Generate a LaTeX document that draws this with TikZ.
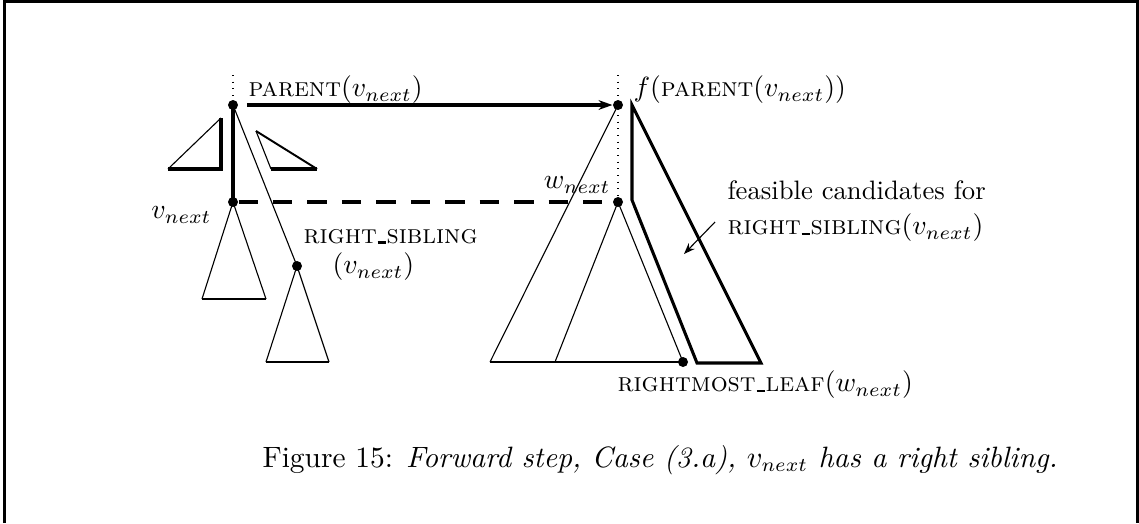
\documentclass[tikz,border=0pt]{standalone}
\usetikzlibrary{arrows.meta}
\newcommand{\usc}{\kern0.03em\rule{0.32em}{0.09em}\kern0.02em}
\begin{document}
\begin{tikzpicture}[x=0.36pt,y=-0.36pt,
  dot/.style={circle,fill,inner sep=0pt,minimum size=3.6pt},
  thickline/.style={line width=1.1pt},
  thinline/.style={line width=0.4pt},
  midline/.style={line width=0.7pt},
  lbl/.style={inner sep=0pt,font=\fontsize{9.6}{11}\selectfont}]
\useasboundingbox (0,0) rectangle (1139,523);
% frame
\draw[line width=1.08pt] (4.5,523) -- (4.5,1.5) -- (1137.5,1.5) -- (1137.5,523);
% nodes
\node[dot] (P) at (233,105) {};
\node[dot] (V) at (233,202) {};
\node[dot] (RS) at (297,266) {};
\node[dot] (F) at (618,105) {};
\node[dot] (W) at (618,202) {};
\node[dot] (RL) at (683,362) {};
\coordinate (Ptop) at (233,75);
\coordinate (Ftop) at (618,75);
% dotted
\draw[dotted,thinline] (Ptop) -- (P);
\draw[dotted,thinline] (Ftop) -- (W);
% left tree
\draw[thickline] (P.center) -- (V.center);
\draw[thinline] (P.center) -- (RS.center);
\coordinate (lt1) at (221,118); \coordinate (lt2) at (168,169); \coordinate (lt3) at (221,169);
\draw[thinline] (lt2) -- (lt1);
\draw[thickline] (lt1) -- (lt3) -- (lt2);
\coordinate (rt1) at (256,131); \coordinate (rt2) at (271,169); \coordinate (rt3) at (317,169);
\draw[thinline] (rt1) -- (rt2);
\draw[thickline] (rt2) -- (rt3);
\draw[midline] (rt3) -- (rt1);
\coordinate (vl) at (202,299); \coordinate (vr) at (266,299);
\draw[thinline] (vl) -- (V.center) -- (vr);
\draw[midline] (vl) -- (vr);
\coordinate (rsl) at (266,362); \coordinate (rsr) at (329,362);
\draw[thinline] (rsl) -- (RS.center) -- (rsr);
\draw[midline] (rsl) -- (rsr);
% connectors
\draw[thickline,-{Stealth[length=5pt,width=3.5pt]},shorten <=3pt] (P) -- (F);
\draw[thickline,dash pattern=on 7pt off 5.4pt] (V) -- (W);
% right tree
\coordinate (bl) at (490,362); \coordinate (wl) at (555,362);
\draw[thinline] (F.center) -- (bl);
\draw[thinline] (wl) -- (W.center) -- (RL.center);
\draw[midline] (bl) -- (RL.center);
\coordinate (c1) at (632,105); \coordinate (c2) at (632,200);
\coordinate (c3) at (697,363); \coordinate (c4) at (761,363);
\draw[thickline] (c1) -- (c2) -- (c3) -- (c4) -- cycle;
\coordinate (as) at (715,222); \coordinate (ae) at (684,254);
\draw[thinline,-{Stealth[length=4pt,width=3pt]}] (as) -- (ae);
% labels
\node[lbl,anchor=west] (lP) at (248,90) {\textsc{parent}$(v_{next})$};
\node[lbl,anchor=west] (lF) at (633,90) {$f($\textsc{parent}$(v_{next}))$};
\node[lbl,anchor=east] (lV) at (212,215) {$v_{next}$};
\node[lbl,anchor=west] (lRS) at (303,237) {\textsc{right\usc sibling}};
\node[lbl,anchor=west] (lRS2) at (332,267) {$(v_{next})$};
\node[lbl,anchor=east] (lW) at (611,185) {$w_{next}$};
\node[lbl,anchor=west] (lfe) at (727,190) {feasible candidates for};
\node[lbl,anchor=west] (lfe2) at (727,228) {\textsc{right\usc sibling}$(v_{next})$};
\node[lbl,anchor=west] (lRL) at (617,385) {\textsc{rightmost\usc leaf}$(w_{next})$};
\node[lbl,anchor=west,font=\fontsize{10.6}{13}\selectfont] (cap) at (262,460) {Figure 15: \textit{Forward step, Case (3.a), $v_{next}$ has a right sibling.}};
\end{tikzpicture}
\end{document}
